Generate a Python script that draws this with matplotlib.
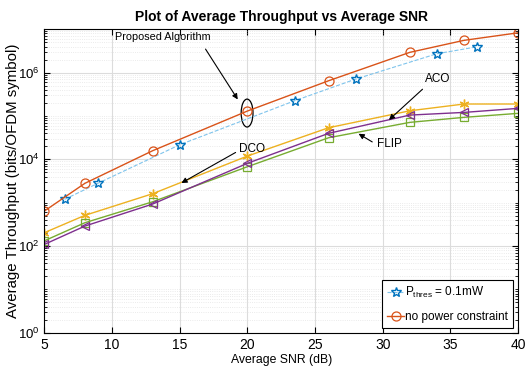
import numpy as np
import matplotlib
matplotlib.use('Agg')
import matplotlib.pyplot as plt
from matplotlib.patches import Ellipse
from matplotlib.ticker import LogLocator, NullFormatter

# data
snr = [5, 8, 13, 20, 26, 32, 36, 40]
no_constraint = [640, 2800, 15800, 1.3e5, 6.5e5, 2.94e6, 5.56e6, 8.3e6]
snr_thres = [6.5, 9, 15, 23.5, 28, 34, 37]
p_thres = [1195, 2840, 21700, 2.25e5, 7.1e5, 2.73e6, 3.96e6]
dco = [203, 511, 1610, 11900, 53600, 1.32e5, 1.89e5, 1.89e5]
aco = [109, 289, 930, 8090, 39800, 1.05e5, 1.21e5, 1.5e5]
flip = [132, 345, 1050, 6750, 31500, 71300, 93100, 1.15e5]
xticks = [5, 10, 15, 20, 25, 30, 35, 40]
yticks = [1, 1e2, 1e4, 1e6]

plt.rcParams['font.family'] = ['Liberation Sans', 'DejaVu Sans']
plt.rcParams['mathtext.fontset'] = 'custom'
plt.rcParams['mathtext.rm'] = 'Liberation Sans'
plt.rcParams['mathtext.it'] = 'Liberation Sans:italic'

fig = plt.figure(figsize=(5.26, 3.79), dpi=100)
ax = fig.add_axes([0.0842, 0.122, 0.9008, 0.8007])

ax.plot(snr_thres, p_thres, '--', color='#7fc4ec', lw=0.8, marker='*', ms=7,
        mfc='none', mec='#0072BD', mew=1.0, label=r'P$_\mathregular{thres}$ = 0.1mW')
ax.plot(snr, no_constraint, '-', color='#D95319', lw=1.0, marker='o', ms=6.5,
        mfc='none', mec='#D95319', mew=0.9, label='no power constraint')
ax.plot(snr, dco, '-', color='#EDB120', lw=1.0, marker=(6, 2, 0), ms=7, mew=1.0)
ax.plot(snr, flip, '-', color='#77AC30', lw=1.0, marker='s', ms=6,
        mfc='none', mec='#77AC30', mew=0.9)
ax.plot(snr, aco, '-', color='#7E2F8E', lw=1.0, marker='<', ms=6,
        mfc='none', mec='#7E2F8E', mew=0.9)

ax.set_yscale('log')
ax.set_xlim(5, 40)
ax.set_ylim(1, 1e7)
ax.set_xticks(xticks)
ax.set_yticks(yticks)
ax.yaxis.set_minor_locator(LogLocator(base=10, subs=np.arange(1, 10), numticks=20))
ax.yaxis.set_minor_formatter(NullFormatter())

ax.grid(True, which='major', color='#dcdcdc', lw=0.8)
ax.grid(True, which='minor', axis='y', color='#e4e4e4', lw=0.6, ls=':')
ax.set_axisbelow(True)
ax.tick_params(which='both', direction='in', top=True, right=True, labelsize=10)
ax.tick_params(axis='y', labelsize=9.5)
ax.tick_params(which='major', length=4)
ax.tick_params(which='minor', length=2)
for s in ax.spines.values():
    s.set_linewidth(0.8)

ax.set_title('Plot of Average Throughput vs Average SNR', fontsize=10,
             fontweight='bold', pad=6)
ax.set_xlabel('Average SNR (dB)', fontsize=8.8, labelpad=2)
ax.set_ylabel('Average Throughput (bits/OFDM symbol)', fontsize=10.8)
ax.yaxis.set_label_coords(-0.052, 0.5)

# annotations
arrow = dict(arrowstyle='-|>', color='k', lw=0.8, mutation_scale=8)
ax.text(13.77, 6.6e6, 'Proposed Algorithm', fontsize=7.8, ha='center', va='center')
ax.annotate('', xy=(19.4, 2.13e5), xytext=(16.8, 3.96e6), arrowprops=arrow)
ax.add_patch(Ellipse((0.428, 0.724), 0.025, 0.092, transform=ax.transAxes,
                     fill=False, ec='k', lw=0.9))
ax.text(20.36, 17100, 'DCO', fontsize=8.5, ha='center', va='center')
ax.annotate('', xy=(14.95, 2650), xytext=(19.31, 15500), arrowprops=arrow)
ax.text(34.08, 7.1e5, 'ACO', fontsize=8.5, ha='center', va='center')
ax.annotate('', xy=(30.31, 7.37e4), xytext=(33.09, 4.58e5), arrowprops=arrow)
ax.text(30.5, 2.25e4, 'FLIP', fontsize=8.5, ha='center', va='center')
ax.annotate('', xy=(28.04, 4.2e4), xytext=(29.4, 2.34e4), arrowprops=arrow)

leg = ax.legend(loc='lower right', fontsize=8.5, fancybox=False, edgecolor='k',
                framealpha=1, handlelength=1.4, handletextpad=0.1,
                borderaxespad=0.4, borderpad=0.45, labelspacing=0.9)
leg.get_frame().set_linewidth(0.8)

fig.savefig('out.png', dpi=100)
